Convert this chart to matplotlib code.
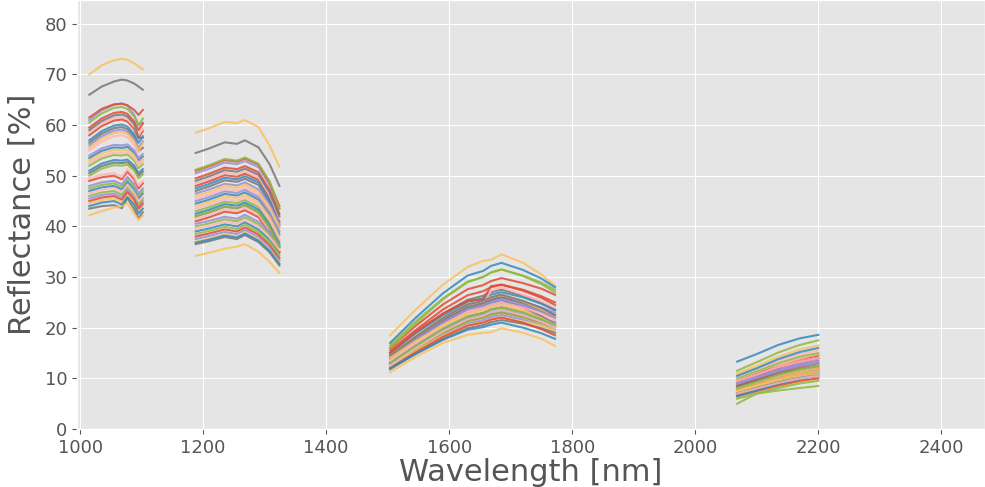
import numpy as np
import matplotlib
matplotlib.use("Agg")
import matplotlib.pyplot as plt

# wavelengths of the four measured bands [nm]
wl_1 = [1015, 1035, 1055, 1068, 1077, 1088, 1095, 1102]
wl_2 = [1188, 1210, 1235, 1255, 1268, 1290, 1308, 1324]
wl_3 = [1504, 1545, 1590, 1630, 1655, 1668, 1685, 1720, 1750, 1772]
wl_4 = [2068, 2100, 2135, 2170, 2200]

# reflectance [%] per sample, one row per spectrum
refl_1 = [
    [58, 59.8, 60.9, 61.1, 60.7, 59.2, 57.5, 58.8],
    [47, 47.7, 48.0, 47.3, 48.8, 47.3, 45.5, 46.5],
    [61, 62.9, 64.0, 64.3, 63.9, 62.0, 60.0, 60.5],
    [66, 67.6, 68.6, 69.0, 68.8, 68.2, 67.6, 67.0],
    [70, 71.8, 72.8, 73.1, 72.9, 72.2, 71.6, 71.0],
    [52, 53.4, 54.1, 54.0, 54.2, 53.0, 51.5, 52.3],
    [55, 56.7, 57.8, 58.0, 57.6, 56.0, 54.5, 55.5],
    [49, 49.7, 50.0, 49.3, 50.8, 49.3, 47.5, 48.5],
    [53.5, 54.9, 55.6, 55.5, 55.7, 54.5, 53.0, 53.8],
    [45.5, 46.2, 46.5, 45.8, 47.3, 45.8, 44.0, 45.0],
    [43.5, 44.0, 44.2, 43.6, 45.6, 43.4, 41.6, 42.8],
    [42.2, 43.0, 43.7, 44.0, 44.6, 42.5, 41.3, 42.1],
    [47.5, 48.2, 48.5, 47.8, 49.3, 47.8, 46.0, 47.0],
    [58.5, 60.3, 61.4, 61.6, 61.2, 59.7, 58.0, 59.3],
    [61.5, 63.2, 64.1, 64.2, 63.9, 63.0, 62.0, 63.0],
    [51, 52.4, 53.1, 53.0, 53.2, 52.0, 50.5, 51.3],
    [54, 55.4, 56.1, 56.0, 56.2, 55.0, 53.5, 54.3],
    [56.5, 58.3, 59.4, 59.6, 59.2, 57.7, 55.0, 55.5],
    [44.5, 45.2, 45.5, 44.8, 46.3, 44.8, 43.0, 44.0],
    [60.5, 62.3, 63.4, 63.6, 63.2, 61.7, 60.0, 61.3],
    [49.5, 50.2, 50.5, 49.8, 51.3, 49.8, 48.0, 49.0],
    [45, 45.7, 46.0, 45.3, 46.8, 45.3, 43.5, 44.5],
    [57, 58.8, 59.9, 60.1, 59.7, 58.2, 56.5, 57.8],
    [48, 48.7, 49.0, 48.3, 49.8, 48.3, 46.5, 47.5],
    [50.5, 51.9, 52.6, 52.5, 52.7, 51.5, 50.0, 50.8],
    [53, 54.4, 55.1, 55.0, 55.2, 54.0, 52.5, 53.3],
    [46, 46.7, 47.0, 46.3, 47.8, 46.3, 44.5, 45.5],
    [52.5, 53.9, 54.6, 54.5, 54.7, 53.5, 52.0, 52.8],
    [59.5, 61.3, 62.4, 62.6, 62.2, 60.7, 59.0, 60.3],
    [44, 44.7, 45.0, 44.3, 45.8, 44.3, 42.5, 43.5],
    [56, 57.8, 58.9, 59.1, 58.7, 57.2, 55.5, 56.8],
    [59, 60.8, 61.9, 62.1, 61.7, 60.2, 57.5, 57.5],
    [55.5, 57.3, 58.4, 58.6, 58.2, 56.7, 55.0, 56.3],
    [50, 51.4, 52.1, 52.0, 52.2, 51.0, 49.5, 50.3],
    [46.5, 47.3, 47.6, 46.9, 48.2, 46.6, 45.0, 45.8],
]

refl_2 = [
    [48, 48.9, 50.1, 49.8, 50.4, 49.2, 45.7, 41.0],
    [39, 39.6, 40.4, 40.0, 40.8, 39.4, 37.4, 34.8],
    [50.5, 51.4, 52.6, 52.3, 52.9, 51.7, 48.2, 43.5],
    [54.5, 55.4, 56.6, 56.3, 57.0, 55.6, 52.3, 48.0],
    [58.5, 59.4, 60.6, 60.4, 61.0, 59.6, 56.0, 51.8],
    [43, 43.8, 44.9, 44.6, 45.2, 43.8, 40.8, 37.0],
    [45.5, 46.3, 47.4, 47.1, 47.7, 46.3, 43.3, 39.5],
    [41, 41.8, 42.9, 42.6, 43.2, 41.8, 38.8, 35.0],
    [44.5, 45.3, 46.4, 46.1, 46.7, 45.3, 42.3, 38.5],
    [37.5, 38.1, 38.9, 38.5, 39.3, 37.9, 35.9, 33.3],
    [36.5, 37.1, 37.9, 37.5, 38.3, 36.9, 34.9, 32.3],
    [34.2, 34.8, 35.6, 36.0, 36.5, 35.0, 33.0, 30.8],
    [40, 40.6, 41.4, 41.0, 41.8, 40.4, 38.4, 35.8],
    [48.5, 49.4, 50.6, 50.3, 50.9, 49.7, 46.2, 41.5],
    [51, 51.9, 53.1, 52.8, 53.4, 52.2, 48.7, 44.0],
    [42.5, 43.3, 44.4, 44.1, 44.7, 43.3, 40.3, 36.5],
    [45, 45.8, 46.9, 46.6, 47.2, 45.8, 42.8, 39.0],
    [47, 47.9, 49.1, 48.8, 49.4, 48.2, 44.7, 40.0],
    [37, 37.6, 38.4, 38.0, 38.8, 37.4, 35.4, 32.8],
    [51.2, 52.1, 53.3, 53.0, 53.6, 52.4, 48.9, 43.5],
    [41.5, 42.3, 43.4, 43.1, 43.7, 42.3, 39.3, 35.5],
    [38, 38.6, 39.4, 39.0, 39.8, 38.4, 36.4, 33.8],
    [47.5, 48.4, 49.6, 49.3, 49.9, 48.7, 45.2, 40.5],
    [40.5, 41.1, 41.9, 41.5, 42.3, 40.9, 38.9, 36.3],
    [42, 42.8, 43.9, 43.6, 44.2, 42.8, 39.8, 36.0],
    [44, 44.8, 45.9, 45.6, 46.2, 44.8, 41.8, 38.0],
    [38.5, 39.1, 39.9, 39.5, 40.3, 38.9, 36.9, 34.3],
    [43.5, 44.3, 45.4, 45.1, 45.7, 44.3, 41.3, 37.5],
    [49.5, 50.4, 51.6, 51.3, 51.9, 50.7, 47.2, 42.5],
    [36.8, 37.4, 38.2, 37.8, 38.6, 37.2, 35.2, 32.6],
    [46.5, 47.3, 48.4, 48.1, 48.7, 47.3, 44.3, 40.5],
    [49, 49.9, 51.1, 50.8, 51.4, 50.2, 46.7, 42.0],
    [46, 46.8, 47.9, 47.6, 48.2, 46.8, 43.8, 40.0],
    [42, 42.8, 43.9, 43.6, 44.2, 42.8, 39.8, 36.0],
    [39.5, 40.1, 40.9, 40.5, 41.3, 39.9, 37.9, 35.3],
]

refl_3 = [
    [15.5, 19.5, 23.6, 26.4, 27.2, 28.0, 28.5, 27.3, 25.9, 24.5],
    [13, 16.4, 19.8, 22.2, 22.9, 23.6, 24, 23.1, 22.0, 21],
    [14.5, 18.1, 21.6, 24.2, 24.9, 25.5, 26, 25.1, 24.0, 23],
    [15, 18.9, 22.8, 25.5, 26.3, 27.0, 27.5, 26.3, 24.9, 23.5],
    [18.5, 23.5, 28.5, 32.0, 33.2, 33.4, 34.5, 32.8, 30.5, 28.3],
    [13.5, 17.1, 20.6, 23.2, 23.9, 24.5, 25, 24.1, 23.0, 22],
    [14, 17.6, 21.1, 23.7, 24.4, 25.0, 25.5, 24.3, 22.9, 21.5],
    [12.5, 15.8, 19.0, 21.3, 22.0, 22.6, 23, 22.1, 21.0, 20],
    [15, 18.7, 22.4, 25.1, 25.8, 26.5, 27, 26.0, 24.7, 23.5],
    [12, 15.3, 18.5, 20.8, 21.5, 22.1, 22.5, 21.6, 20.5, 19.5],
    [11.8, 14.8, 17.8, 19.9, 20.5, 21.1, 21.5, 20.8, 19.9, 19],
    [11.2, 14.2, 17.0, 18.6, 19.0, 19.1, 19.9, 19.0, 17.8, 16.4],
    [16.5, 21.2, 25.8, 29.1, 30.0, 30.9, 31.5, 30.2, 28.6, 27],
    [14.5, 18.4, 22.0, 24.3, 24.6, 27.3, 28.0, 26.5, 25.2, 24],
    [16, 20.3, 24.6, 27.6, 28.4, 29.2, 29.8, 28.8, 27.7, 26.5],
    [13, 16.3, 19.5, 21.8, 22.5, 23.1, 23.5, 22.6, 21.5, 20.5],
    [13.5, 17.1, 20.6, 23.2, 23.9, 24.5, 25, 24.2, 23.4, 22.5],
    [14, 17.7, 21.4, 24.1, 24.8, 25.5, 26, 24.8, 23.4, 22],
    [12.5, 15.4, 18.4, 20.5, 21.1, 21.6, 22, 21.2, 20.4, 19.5],
    [16, 20.8, 25.6, 29.0, 30.0, 30.9, 31.5, 30.3, 28.9, 27.5],
    [13.5, 16.9, 20.3, 22.7, 23.4, 24.1, 24.5, 23.6, 22.5, 21.5],
    [12, 15.1, 18.2, 20.4, 21.0, 21.6, 22, 21.0, 19.7, 18.5],
    [17, 21.9, 26.8, 30.3, 31.2, 32.2, 32.8, 31.4, 29.7, 28],
    [13, 16.4, 19.8, 22.2, 22.9, 23.6, 24, 23.1, 22.0, 21],
    [14, 17.6, 21.1, 23.7, 24.4, 25.0, 25.5, 24.0, 22.3, 20.5],
    [14.5, 18.2, 21.9, 24.6, 25.3, 26.0, 26.5, 25.2, 23.6, 22],
    [12.5, 15.8, 19.0, 21.3, 22.0, 22.6, 23, 22.1, 21.0, 20],
    [13.5, 17.1, 20.6, 23.2, 23.9, 24.5, 25, 24.0, 22.7, 21.5],
    [15, 19.2, 22.8, 25.3, 25.6, 28.2, 28.5, 27.5, 26.2, 25],
    [12, 14.8, 17.6, 19.6, 20.1, 20.6, 21, 20.0, 18.9, 17.8],
    [14, 17.6, 21.1, 23.7, 24.4, 25.0, 25.5, 24.5, 23.2, 22],
    [14.5, 18.2, 21.9, 24.6, 25.3, 26.0, 26.5, 25.3, 23.9, 22.5],
    [14, 17.3, 20.5, 22.8, 23.5, 24.1, 24.5, 23.3, 21.9, 20.5],
    [13, 16.4, 19.8, 22.2, 22.9, 23.6, 24, 23.0, 21.7, 20.5],
    [12.5, 15.9, 19.3, 21.7, 22.4, 23.1, 23.5, 22.5, 21.2, 20],
]

refl_4 = [
    [9.5, 10.9, 12.5, 13.8, 14.5],
    [8, 9.1, 10.4, 11.4, 12],
    [8.5, 9.9, 11.5, 12.8, 13.5],
    [9, 10.4, 12.0, 13.3, 14],
    [11, 12.5, 14.3, 15.7, 16.5],
    [5.0, 7.0, 7.6, 8.1, 8.5],
    [9, 10.6, 12.5, 13.9, 14.8],
    [7.5, 8.6, 9.9, 10.9, 11.5],
    [13.3, 14.8, 16.6, 17.9, 18.6],
    [6.5, 7.8, 9.2, 10.3, 11],
    [7, 8.3, 9.7, 10.8, 11.5],
    [6, 7.1, 8.4, 9.4, 10],
    [11.5, 13.2, 15.1, 16.6, 17.5],
    [10.5, 11.9, 13.5, 14.8, 15.5],
    [9.5, 10.8, 12.2, 13.3, 14],
    [7, 8.1, 9.4, 10.4, 11],
    [8.5, 9.6, 10.9, 11.9, 12.5],
    [8, 9.1, 10.4, 11.4, 12],
    [7.5, 8.5, 9.6, 10.5, 11],
    [10, 11.4, 13.0, 14.3, 15],
    [8.5, 9.8, 11.2, 12.3, 13],
    [6.5, 7.5, 8.6, 9.5, 10],
    [10.5, 12.0, 13.8, 15.2, 16],
    [9, 10.3, 11.7, 12.8, 13.5],
    [7, 8.0, 9.1, 10.0, 10.5],
    [8, 9.1, 10.4, 11.4, 12],
    [6, 7.0, 8.1, 9.0, 9.5],
    [9.5, 10.8, 12.2, 13.3, 14],
    [8.5, 9.8, 11.2, 12.3, 13],
    [6.5, 7.6, 8.9, 9.9, 10.5],
    [9, 10.1, 11.4, 12.4, 13],
    [8.5, 9.6, 10.9, 11.9, 12.5],
    [7.5, 8.6, 9.9, 10.9, 11.5],
    [8, 9.3, 10.7, 11.8, 12.5],
    [7, 8.0, 9.1, 10.0, 10.5],
]

x_ticks = [1000, 1200, 1400, 1600, 1800, 2000, 2200, 2400]
y_ticks = [0, 10, 20, 30, 40, 50, 60, 70, 80]

plt.style.use("ggplot")

fig = plt.figure(figsize=(9.85, 4.87), dpi=100)
ax = fig.add_axes([77 / 985, 58 / 487, 908 / 985, 429 / 487])

# one line per spectrum, gaps between the bands
gap = [np.nan]
x_all = wl_1 + gap + wl_2 + gap + wl_3 + gap + wl_4
for r1, r2, r3, r4 in zip(refl_1, refl_2, refl_3, refl_4):
    y_all = r1 + gap + r2 + gap + r3 + gap + r4
    ax.plot(x_all, y_all, linewidth=1.5, alpha=0.85)

ax.set_xlim(995, 2471)
ax.set_ylim(0, 84.7)
ax.set_xticks(x_ticks)
ax.set_yticks(y_ticks)
ax.tick_params(axis="both", labelsize=13, colors="#555555")
ax.set_xlabel("Wavelength [nm]", fontsize=22, color="#555555", labelpad=1)
ax.set_ylabel("Reflectance [%]", fontsize=22, color="#555555", labelpad=6)

fig.savefig("out.png", dpi=100)
plt.close(fig)
